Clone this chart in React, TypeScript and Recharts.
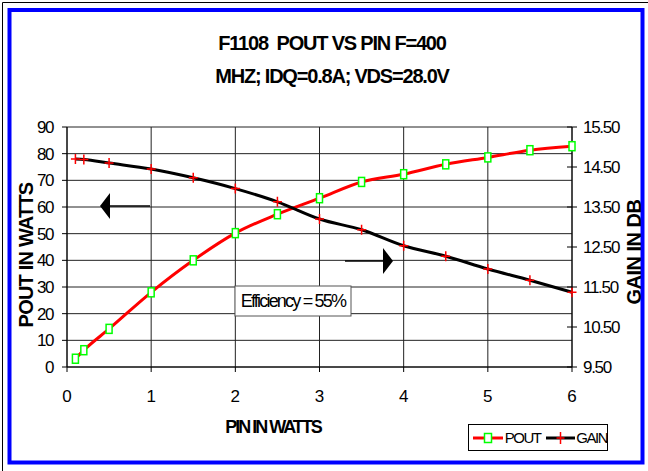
import React from 'react';
import { ComposedChart, Line, XAxis, YAxis, CartesianGrid, Legend } from 'recharts';

const pinWatts = [0.1, 0.2, 0.5, 1, 1.5, 2, 2.5, 3, 3.5, 4, 4.5, 5, 5.5, 6];
const poutWatts = [3.1, 6.3, 14.3, 28, 40, 50.2, 57.3, 63.3, 69.4, 72.3, 76, 78.6, 81.3, 82.8];
const gainDb = [14.7, 14.69, 14.6, 14.45, 14.23, 13.96, 13.63, 13.2, 12.93, 12.53, 12.27, 11.95, 11.67, 11.37];

const xTicks = [0, 1, 2, 3, 4, 5, 6];
const leftTicks = [0, 10, 20, 30, 40, 50, 60, 70, 80, 90];
const rightTicks = [9.5, 10.5, 11.5, 12.5, 13.5, 14.5, 15.5];

const titleLine1 = 'F1108\u00a0 POUT VS PIN F=400';
const titleLine2 = 'MHZ; IDQ=0.8A; VDS=28.0V';
const xTitle = 'PIN IN WATTS';
const leftTitle = 'POUT IN WATTS';
const rightTitle = 'GAIN IN DB';
const noteText = 'Efficiency = 55%';

const data = pinWatts.map((p, i) => ({ pin: p, pout: poutWatts[i], gain: gainDb[i] }));

const FONT = '"Liberation Sans", Arial, sans-serif';

const SquareDot = (props: any) => {
  const { cx, cy } = props;
  if (cx == null || cy == null) return null;
  return <rect x={cx - 3} y={cy - 4.5} width={6} height={9} fill="#fff" stroke="#00ff00" strokeWidth={1.5} />;
};

const PlusDot = (props: any) => {
  const { cx, cy } = props;
  if (cx == null || cy == null) return null;
  return <path d={`M${cx - 4.5},${cy}H${cx + 4.5}M${cx},${cy - 5}V${cy + 5}`} stroke="#ff0000" strokeWidth={1.5} fill="none" />;
};

const XTick = (props: any) => {
  const { x, y, payload } = props;
  return (
    <text x={x} y={y} dy="0.71em" textAnchor="middle" fill="#000" fontSize={17} fontFamily={FONT}>
      {payload.value}
    </text>
  );
};

const LeftTick = (props: any) => {
  const { x, y, payload } = props;
  return (
    <text x={x} y={y} dy="0.35em" textAnchor="end" fill="#000" fontSize={17} fontFamily={FONT} letterSpacing={-1.5}>
      {payload.value}
    </text>
  );
};

const RightTick = (props: any) => {
  const { x, y, payload } = props;
  return (
    <g>
      <line x1={x - 5} x2={x + 5} y1={y} y2={y} stroke="#000" strokeWidth={1} />
      <text x={x + 11} y={y} dy="0.35em" textAnchor="start" fill="#000" fontSize={17} fontFamily={FONT} letterSpacing={-1.3}>
        {Number(payload.value).toFixed(2)}
      </text>
    </g>
  );
};

const LegendBox = () => (
  <div
    style={{
      width: 140,
      height: 27,
      boxSizing: 'border-box',
      border: '1px solid #000',
      background: '#fff',
      display: 'flex',
      alignItems: 'center',
      fontFamily: FONT,
      fontSize: 15,
      letterSpacing: -1.5,
      color: '#000',
      paddingLeft: 3,
    }}
  >
    <svg width={32} height={14} style={{ display: 'block' }}>
      <line x1={1} x2={31} y1={7} y2={7} stroke="#ff0000" strokeWidth={3} />
      <rect x={12.5} y={2.5} width={7} height={9} fill="#fff" stroke="#00ff00" strokeWidth={1.5} />
    </svg>
    <span style={{ marginLeft: 2, marginRight: 5 }}>POUT</span>
    <svg width={31} height={14} style={{ display: 'block' }}>
      <line x1={1} x2={30} y1={7} y2={7} stroke="#000" strokeWidth={3} />
      <path d="M11.5,7H19.5M15.5,1V13" stroke="#ff0000" strokeWidth={1.5} />
    </svg>
    <span style={{ marginLeft: 1 }}>GAIN</span>
  </div>
);

export default function App() {
  return (
    <div style={{ position: 'absolute', left: 0, top: 0, width: 648, height: 471, background: '#fff' }}>
      <ComposedChart
        width={648}
        height={471}
        data={data}
        margin={{ top: 127, right: 16, bottom: 44, left: 17 }}
      >
        <CartesianGrid yAxisId="left" stroke="#222" strokeWidth={1} />
        <XAxis
          dataKey="pin"
          type="number"
          domain={[0, 6]}
          ticks={xTicks}
          tick={<XTick />}
          tickSize={5}
          tickMargin={18}
          height={60}
          stroke="#000"
          interval={0}
        />
        <YAxis
          yAxisId="left"
          domain={[0, 90]}
          ticks={leftTicks}
          tick={<LeftTick />}
          tickSize={5}
          tickMargin={9}
          width={50}
          stroke="#000"
          interval={0}
        />
        <YAxis
          yAxisId="right"
          orientation="right"
          domain={[9.5, 15.5]}
          ticks={rightTicks}
          tick={<RightTick />}
          tickSize={0}
          tickMargin={0}
          width={60}
          stroke="#000"
          interval={0}
        />
        <Legend
          layout="vertical"
          verticalAlign="middle"
          align="center"
          content={<LegendBox />}
          wrapperStyle={{ position: 'absolute', left: 468, top: 424, width: 140, height: 27 }}
        />
        <Line
          yAxisId="left"
          type="monotone"
          dataKey="pout"
          name="POUT"
          stroke="#ff0000"
          strokeWidth={3}
          dot={<SquareDot />}
          isAnimationActive={false}
        />
        <Line
          yAxisId="right"
          type="monotone"
          dataKey="gain"
          name="GAIN"
          stroke="#000"
          strokeWidth={3}
          dot={<PlusDot />}
          isAnimationActive={false}
        />
      </ComposedChart>
      <svg
        width={648}
        height={471}
        style={{ position: 'absolute', left: 0, top: 0, pointerEvents: 'none' }}
      >
        <line x1={2.5} x2={648} y1={2.5} y2={2.5} stroke="#000" strokeWidth={1} />
        <line x1={2.5} x2={2.5} y1={2.5} y2={471} stroke="#000" strokeWidth={1} />
        <rect x={9.5} y={10} width={633} height={452.5} fill="none" stroke="#0000ff" strokeWidth={4} />
        <text x={332} y={43} textAnchor="middle" dominantBaseline="central" fontFamily={FONT} fontWeight="bold" fontSize={20} letterSpacing={-1.2}>
          {titleLine1}
        </text>
        <text x={332} y={76} textAnchor="middle" dominantBaseline="central" fontFamily={FONT} fontWeight="bold" fontSize={20} letterSpacing={-1.2}>
          {titleLine2}
        </text>
        <text
          transform="translate(26,255) rotate(-90)"
          textAnchor="middle"
          dominantBaseline="central"
          fontFamily={FONT}
          fontWeight="bold"
          fontSize={20}
          letterSpacing={-0.8}
        >
          {leftTitle}
        </text>
        <text
          transform="translate(634,252) rotate(-90)"
          textAnchor="middle"
          dominantBaseline="central"
          fontFamily={FONT}
          fontWeight="bold"
          fontSize={20}
          letterSpacing={-0.5}
        >
          {rightTitle}
        </text>
        <text x={273} y={427} textAnchor="middle" dominantBaseline="central" fontFamily={FONT} fontWeight="bold" fontSize={18} letterSpacing={-2}>
          {xTitle}
        </text>
        <line x1={109} x2={150} y1={206} y2={206} stroke="#000" strokeWidth={1.5} />
        <path d="M100,206L110,193L110,219Z" fill="#000" />
        <line x1={345} x2={384} y1={261} y2={261} stroke="#000" strokeWidth={1.5} />
        <path d="M393,261L383,248L383,274Z" fill="#000" />
        <rect x={235} y={286} width={116} height={30} fill="#fff" stroke="#555" strokeWidth={1} />
        <text x={293} y={301} textAnchor="middle" dominantBaseline="central" fontFamily={FONT} fontSize={18} letterSpacing={-1.8}>
          {noteText}
        </text>
      </svg>
    </div>
  );
}
